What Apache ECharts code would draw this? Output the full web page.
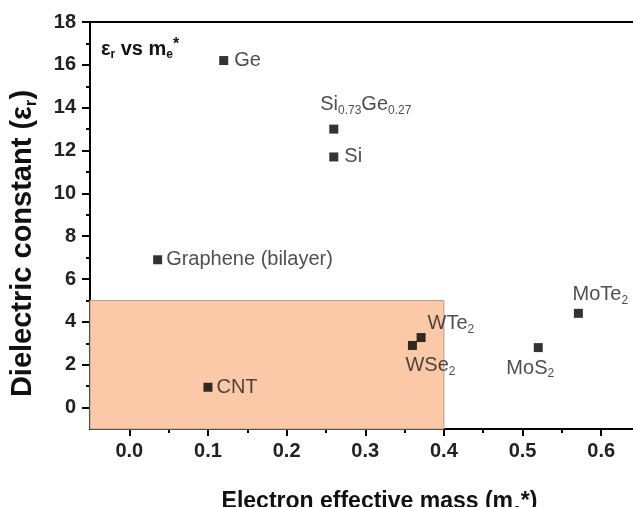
<!DOCTYPE html>
<html><head><meta charset="utf-8">
<script src="https://cdn.jsdelivr.net/npm/echarts@6/dist/echarts.min.js"></script>
<style>html,body{margin:0;padding:0;background:#fff}#c{width:633px;height:507px}</style>
</head><body><div id="c"></div>
<script>
const names = ['Ge','SiGe','Si','Graphene','CNT','WTe2','WSe2','MoS2','MoTe2'];
const labels = ['{n|Ge}','{n|Si}{s|0.73}{n|Ge}{s|0.27}','{n|Si}','{n|Graphene (bilayer)}','{n|CNT}','{n|WTe}{s|2}','{n|WSe}{s|2}','{n|MoS}{s|2}','{n|MoTe}{s|2}'];
const massX = [0.12, 0.26, 0.26, 0.036, 0.10, 0.371, 0.36, 0.52, 0.571];
const epsY = [16.2, 13.0, 11.7, 6.9, 0.95, 3.27, 2.9, 2.8, 4.4];
const labelPos = ['right','top','right','right','right','right','bottom','bottom','top'];
const labelOff = [[2,0],[32,-4],[2,0],[0,0],[0,0],[-2,-14],[18,0],[-8,0],[22,2]];
const shadeX = [-0.05, 0.40];
const shadeY = [-1, 5];
const xTicks = [0.0, 0.1, 0.2, 0.3, 0.4, 0.5, 0.6];
const xMinorTicks = [0.05, 0.15, 0.25, 0.35, 0.45, 0.55];
const yTicks = [0, 2, 4, 6, 8, 10, 12, 14, 16, 18];
const yMinorTicks = [1, 3, 5, 7, 9, 11, 13, 15, 17];

const FF = 'Liberation Sans';
const rich = {
  n:{fontFamily:FF,fontSize:20,color:'#222'},
  s:{fontFamily:FF,fontSize:12,color:'#222',padding:[12,0,0,0]}
};
const XMIN = -0.05, XMAX = 0.643, YMIN = -1, YMAX = 18;
const axisBase = {
  axisLine:{onZero:false,lineStyle:{color:'#000',width:2}},
  splitLine:{show:false}
};
const chart = echarts.init(document.getElementById('c'));
chart.setOption({
  animation:false,
  grid:{left:90,top:22,right:-2,bottom:78,containLabel:false,outerBoundsMode:'none',show:true,borderColor:'#000',borderWidth:2,backgroundColor:'transparent'},
  title:{text:'{a|ε}{b|r}{a| vs m}{b|e}{c|*}',left:96,top:32,textStyle:{rich:{
    a:{fontFamily:FF,fontWeight:'bold',fontSize:20,color:'#111'},
    b:{fontFamily:FF,fontWeight:'bold',fontSize:12,color:'#111',padding:[12,0,0,0]},
    c:{fontFamily:FF,fontWeight:'bold',fontSize:16,color:'#111',padding:[0,0,8,0]}}}},
  xAxis:[
    Object.assign({type:'value',min:XMIN,max:XMAX,position:'bottom',
      name:'{a|Electron effective mass (m}{b|e}{a|*)}',nameLocation:'middle',nameGap:58,
      nameTextStyle:{padding:[0,0,0,34],rich:{a:{fontFamily:FF,fontWeight:'bold',fontSize:23,color:'#111'},b:{fontFamily:FF,fontWeight:'bold',fontSize:14,color:'#111',padding:[16,0,0,0]}}},
      axisTick:{inside:false,length:7,customValues:xTicks,lineStyle:{color:'#000',width:2}},
      axisLabel:{margin:12,customValues:xTicks,fontFamily:FF,fontWeight:'bold',fontSize:20,color:'#222',formatter:v=>v.toFixed(1)}
    },axisBase),
    Object.assign({type:'value',min:XMIN,max:XMAX,position:'bottom',
      axisTick:{inside:false,length:4,customValues:xMinorTicks,lineStyle:{color:'#000',width:2}},
      axisLabel:{show:false}
    },axisBase)
  ],
  yAxis:[
    Object.assign({type:'value',min:YMIN,max:YMAX,position:'left',
      name:'{a|Dielectric constant (ε}{b|r}{a|)}',nameLocation:'middle',nameGap:50,
      nameTextStyle:{padding:[0,36,0,0],rich:{a:{fontFamily:FF,fontWeight:'bold',fontSize:29,color:'#111'},b:{fontFamily:FF,fontWeight:'bold',fontSize:17,color:'#111',padding:[18,0,0,0]}}},
      axisTick:{inside:false,length:8,customValues:yTicks,lineStyle:{color:'#000',width:2}},
      axisLabel:{margin:14,customValues:yTicks,fontFamily:FF,fontWeight:'bold',fontSize:20,color:'#222'}
    },axisBase),
    Object.assign({type:'value',min:YMIN,max:YMAX,position:'left',
      axisTick:{inside:false,length:4,customValues:yMinorTicks,lineStyle:{color:'#000',width:2}},
      axisLabel:{show:false}
    },axisBase)
  ],
  series:[{
    type:'scatter',symbol:'square',symbolSize:9,itemStyle:{color:'#000'},
    data:massX.map((x,i)=>({value:[x,epsY[i]],label:{show:true,position:labelPos[i],offset:labelOff[i],distance:4,formatter:labels[i],rich:rich}})),
    markArea:{silent:true,itemStyle:{color:'#fbc9a7',borderColor:'#b0a090',borderWidth:1},
      data:[[{coord:[shadeX[0],shadeY[0]]},{coord:[shadeX[1],shadeY[1]]}]]},
    z:5
  }]
});
</script></body></html>
